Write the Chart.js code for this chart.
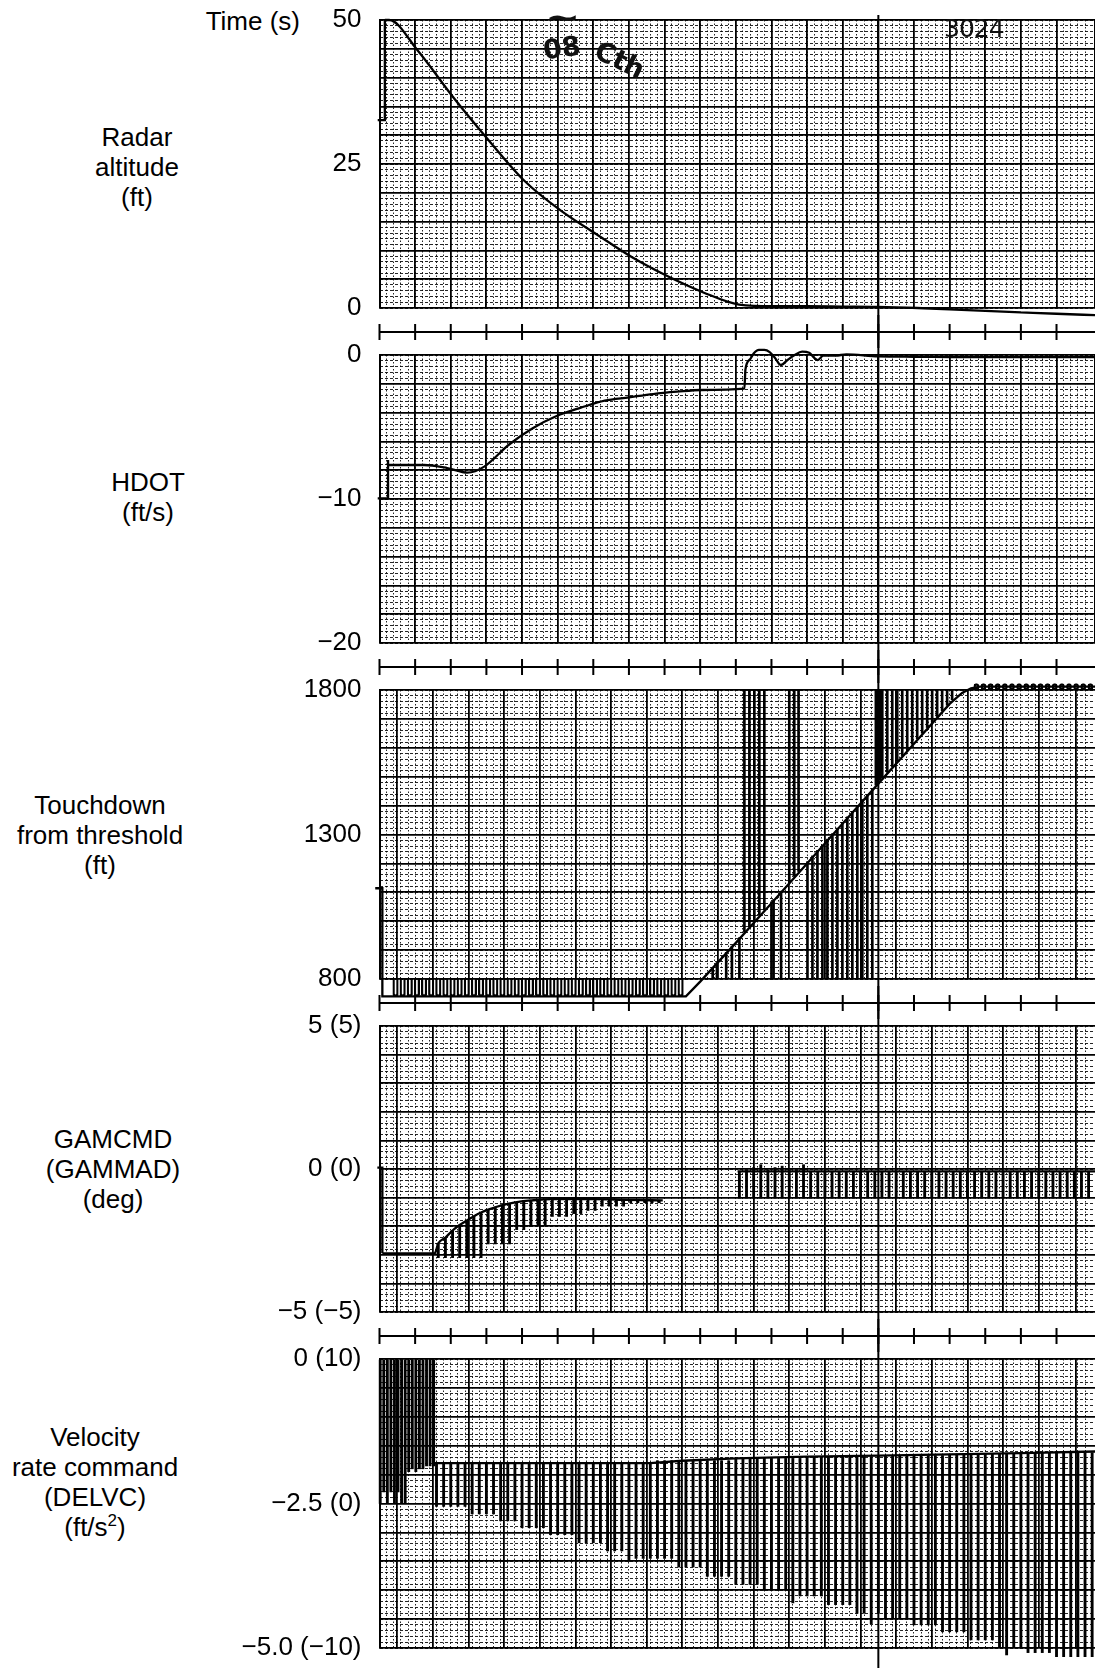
<!DOCTYPE html>
<html>
<head>
<meta charset="utf-8">
<title>Autoland strip chart</title>
<script src="https://cdn.jsdelivr.net/npm/chart.js@4.4.1/dist/chart.umd.min.js"></script>
<style>
  html, body { margin: 0; padding: 0; background: #fff; }
  #page { position: relative; width: 1095px; height: 1668px; overflow: hidden;
          font-family: 'Liberation Sans', Arial, Helvetica, sans-serif; color: #000; }
  #page canvas { position: absolute; left: 0; }
  .lbl { position: absolute; width: 300px; text-align: center; font-size: 26px; line-height: 30px; }
  .hand { position: absolute; font-family: 'DejaVu Sans', sans-serif; color: #111; }
</style>
</head>
<body>
<div id="page">
  <div class="lbl" style="left:0;top:6px;text-align:right;">Time (s)</div>
  <div class="lbl" style="left:-13px;top:122px;">Radar<br>altitude<br>(ft)</div>
  <div class="lbl" style="left:-2px;top:467px;">HDOT<br>(ft/s)</div>
  <div class="lbl" style="left:-50px;top:790px;">Touchdown<br>from threshold<br>(ft)</div>
  <div class="lbl" style="left:-37px;top:1124px;">GAMCMD<br>(GAMMAD)<br>(deg)</div>
  <div class="lbl" style="left:-55px;top:1422px;">Velocity<br>rate command<br>(DELVC)<br>(ft/s<sup style="font-size:17px;line-height:0;vertical-align:10px;">2</sup>)</div>

  <canvas id="c1" width="1095" height="348" style="top:0px"></canvas>
  <canvas id="c2" width="1095" height="368" style="top:315px"></canvas>
  <canvas id="c3" width="1095" height="369" style="top:650px"></canvas>
  <canvas id="c4" width="1095" height="366" style="top:986px"></canvas>
  <canvas id="c5" width="1095" height="349" style="top:1319px"></canvas>

  <div class="hand" style="left:944px;top:14px;font-size:25px;letter-spacing:-1px;">3024</div>
  <div class="hand" style="left:550px;top:0px;font-size:30px;font-weight:bold;transform:scaleX(1.4);">~</div>
  <div class="hand" style="left:543px;top:32px;font-size:27px;font-weight:bold;transform:rotate(-8deg);">08</div>
  <div class="hand" style="left:594px;top:44px;font-size:27px;font-weight:bold;transform:rotate(26deg);">Cth</div>
</div>

<script>
// ---- data (time in seconds) ----
const cursorTime = 14;
const timeMax = 20.08;

// radar altitude (ft)
const altMarkT = [-0.05, 0.15, 0.15];
const altMarkVal = [32.6, 32.6, 50];
const altT = [0.15, 0.27, 1.06, 2.08, 3.08, 4.08, 5.09, 6.09, 7.09, 8.09, 9.09, 10.09, 11.1, 12.0, 13.0, 14.0, 15.1, 16.0, 17.0, 18.0, 19.0, 20.1];
const altVal = [50, 50, 44.8, 36.5, 29.0, 22.0, 16.9, 12.8, 8.8, 5.5, 2.7, 0.6, 0.3, 0.3, 0.25, 0.2, 0.0, -0.25, -0.5, -0.75, -1.0, -1.25];
const altTickVals = [50, 25, 0];
const altTickText = ['50', '25', '0'];

// HDOT (ft/s)
const hdotMarkT = [-0.05, 0.24, 0.24];
const hdotMarkVal = [-9.95, -9.95, -7.3];
const hdotT = [0.24, 1.25, 1.9, 2.47, 2.94, 3.62, 4.3, 4.97, 5.65, 6.32, 7.0, 7.68, 8.35, 9.02, 10.24, 10.27, 10.4, 10.5, 10.65, 10.8, 10.95, 11.1, 11.26, 11.45, 11.65, 11.86, 12.06, 12.2, 12.3, 12.45, 12.8, 13.1, 14.0, 15.0, 16.0, 17.0, 18.0, 19.0, 20.1];
const hdotVal = [-7.64, -7.64, -7.85, -8.17, -7.75, -6.25, -5.09, -4.24, -3.66, -3.17, -2.94, -2.71, -2.55, -2.43, -2.34, -1.0, -0.3, 0.1, 0.35, 0.35, 0.2, -0.2, -0.69, -0.35, 0.0, 0.23, 0.15, -0.2, -0.35, -0.05, -0.05, 0.05, -0.1, -0.12, -0.14, -0.15, -0.15, -0.15, -0.15];
const hdotTickVals = [0, -10, -20];
const hdotTickText = ['0', '\u221210', '\u221220'];

// touchdown from threshold (ft)
const tdT = [-0.12, 0.08, 0.08, 8.6, 9.0, 10.0, 11.0, 12.0, 13.0, 14.0, 15.0, 16.0, 16.35, 16.6, 16.85, 20.1];
const tdVal = [1114, 1114, 740, 740, 791, 925, 1062, 1200, 1338, 1476, 1614, 1752, 1790, 1806, 1812, 1812];
const tdFloorLoopT = [0.45, 0.65, 0.85, 1.05, 1.25, 1.45, 1.65, 1.85, 2.05, 2.25, 2.45, 2.65, 2.85, 3.05, 3.25, 3.45, 3.65, 3.85, 4.05, 4.25, 4.45, 4.65, 4.85, 5.05, 5.25, 5.45, 5.65, 5.85, 6.05, 6.25, 6.45, 6.65, 6.85, 7.05, 7.25, 7.45, 7.65, 7.85, 8.05, 8.25, 8.45];
const tdFloorLo = 740, tdFloorHi = 800;
const tdCeilLoopT = [16.75, 16.95, 17.15, 17.35, 17.55, 17.75, 17.95, 18.15, 18.35, 18.55, 18.75, 18.95, 19.15, 19.35, 19.55, 19.75, 19.95];
const tdCeilLo = 1800, tdCeilHi = 1822;
const tdHatchT = [9.35, 9.47, 9.73, 9.89, 10.1, 10.24, 10.38, 10.52, 10.66, 10.8, 11.0, 11.06, 11.27, 11.5, 11.64, 11.76,
  12.01, 12.15, 12.29, 12.43, 12.57, 12.71, 12.85, 12.99, 13.13, 13.27, 13.41, 13.55, 13.69, 13.83,
  13.93, 13.99, 14.05, 14.11, 14.25, 14.39, 14.53, 14.67, 14.81, 14.95, 15.09, 15.23, 15.37, 15.51, 15.65, 15.79, 15.93, 16.07];
const tdHatchLo = [800, 800, 800, 800, 800, 962, 981, 1001, 1020, 1039, 800, 800, 800, 1136, 1155, 1172,
  800, 800, 800, 800, 800, 800, 800, 800, 800, 800, 800, 800, 800, 800,
  1471, 1480, 1488, 1496, 1515, 1535, 1554, 1573, 1593, 1612, 1631, 1651, 1670, 1689, 1708, 1728, 1747, 1766];
const tdHatchHi = [839, 856, 892, 914, 943, 1800, 1800, 1800, 1800, 1800, 1067, 1075, 1104, 1800, 1800, 1800,
  1206, 1226, 1245, 1264, 1284, 1303, 1322, 1342, 1361, 1380, 1400, 1419, 1438, 1458,
  1800, 1800, 1800, 1800, 1800, 1800, 1800, 1800, 1800, 1800, 1800, 1800, 1800, 1800, 1800, 1800, 1800, 1800];
const tdTickVals = [1800, 1300, 800];
const tdTickText = ['1800', '1300', '800'];

// GAMCMD (GAMMAD) (deg)
const gamMarkT = [-0.06, 0.08, 0.08];
const gamMarkVal = [0.05, 0.05, -2.95];
const gamT = [0.08, 1.55, 1.65, 1.85, 2.05, 2.25, 2.45, 2.65, 2.85, 3.05, 3.45, 3.85, 4.25, 4.85, 6.0, 7.0, 7.95];
const gamVal = [-2.95, -2.95, -2.6, -2.4, -2.15, -1.96, -1.8, -1.65, -1.52, -1.42, -1.26, -1.16, -1.1, -1.05, -1.05, -1.08, -1.1];
const gamBandLineT = [10.05, 20.1];
const gamBandLineVal = [-0.08, -0.08];
const gamHatchT = [1.65, 1.85, 2.05, 2.25, 2.45, 2.65, 2.85, 3.05, 3.25, 3.45, 3.65, 3.85, 4.05, 4.25, 4.45, 4.65,
  4.85, 5.05, 5.25, 5.45, 5.65, 5.85, 6.05, 6.25, 6.45, 6.65, 6.85, 7.05, 7.25, 7.45, 7.65, 7.85];
const gamHatchHi = [-2.6, -2.4, -2.15, -1.96, -1.8, -1.65, -1.52, -1.42, -1.33, -1.26, -1.2, -1.16, -1.12, -1.1, -1.08, -1.06,
  -1.05, -1.05, -1.05, -1.05, -1.05, -1.05, -1.05, -1.06, -1.06, -1.07, -1.07, -1.08, -1.08, -1.09, -1.09, -1.1];
const gamHatchLo = [-3.1, -3.1, -3.1, -3.1, -3.1, -3.1, -3.1, -2.62, -2.62, -2.62, -2.62, -2.12, -2.12, -1.95, -1.95, -1.95,
  -1.66, -1.66, -1.66, -1.56, -1.56, -1.45, -1.45, -1.3, -1.3, -1.3, -1.3, -1.18, -1.18, -1.18, -1.18, -1.18];
const gamBandT = [10.1, 10.3, 10.5, 10.7, 10.9, 11.1, 11.3, 11.5, 11.7, 11.9, 12.1, 12.3, 12.5, 12.7, 12.9, 13.1, 13.3, 13.5, 13.7, 13.9,
  14.1, 14.3, 14.5, 14.7, 14.9, 15.1, 15.3, 15.5, 15.7, 15.9, 16.1, 16.3, 16.5, 16.7, 16.9, 17.1, 17.3, 17.5, 17.7, 17.9,
  18.1, 18.3, 18.5, 18.7, 18.9, 19.1, 19.3, 19.5, 19.7, 19.9];
const gamBandHi = [-0.08, 0.0, 0.05, 0.15, 0.0, 0.05, 0.1, -0.05, 0.0, 0.15, -0.08, -0.08, -0.08, -0.08, -0.08, -0.08, -0.08, -0.08, -0.08, -0.08,
  -0.08, -0.08, -0.08, -0.08, -0.08, -0.08, -0.08, -0.08, -0.08, -0.08, -0.08, -0.08, -0.08, -0.08, -0.08, -0.08, -0.08, -0.08, -0.08, -0.08,
  -0.08, -0.08, -0.08, -0.08, -0.08, -0.08, -0.08, -0.08, -0.08, -0.08];
const gamBandLo = -1.02;
const gamTickVals = [5, 0, -5];
const gamTickText = ['5 (5)', '0 (0)', '\u22125 (\u22125)'];

// velocity rate command DELVC (ft/s^2)
const velT = [1.5, 4.0, 7.6, 8.5, 10.0, 12.0, 14.0, 16.0, 18.0, 20.1];
const velVal = [-1.8, -1.8, -1.8, -1.76, -1.72, -1.69, -1.67, -1.65, -1.63, -1.6];
const velLeftT = [0.02, 0.12, 0.22, 0.32, 0.42, 0.52, 0.62, 0.72, 0.82, 0.92, 1.02, 1.12, 1.22, 1.32, 1.42, 1.52];
const velLeftLo = [-2.5, -2.3, -2.5, -2.3, -2.5, -2.3, -2.5, -2.5, -1.95, -1.9, -1.95, -1.9, -1.9, -1.85, -1.85, -1.85];
const velLeftHi = 0;
const velHatchT = [1.6, 1.8, 2.0, 2.2, 2.4, 2.6, 2.8, 3.0, 3.2, 3.4,
  3.6, 3.8, 4.0, 4.2, 4.4, 4.6, 4.8, 5.0, 5.2, 5.4,
  5.6, 5.8, 6.0, 6.2, 6.4, 6.6, 6.8, 7.0, 7.2, 7.4,
  7.6, 7.8, 8.0, 8.2, 8.4, 8.6, 8.8, 9.0, 9.2, 9.4,
  9.6, 9.8, 10.0, 10.2, 10.4, 10.6, 10.8, 11.0, 11.2, 11.4,
  11.6, 11.8, 12.0, 12.2, 12.4, 12.6, 12.8, 13.0, 13.2, 13.4,
  13.6, 13.8, 14.0, 14.2, 14.4, 14.6, 14.8, 15.0, 15.2, 15.4,
  15.6, 15.8, 16.0, 16.2, 16.4, 16.6, 16.8, 17.0, 17.2, 17.4,
  17.6, 17.8, 18.0, 18.2, 18.4, 18.6, 18.8, 19.0, 19.2, 19.4,
  19.6, 19.8, 20.0];
const velHatchLo = [-2.55, -2.55, -2.55, -2.55, -2.55, -2.68, -2.68, -2.68, -2.68, -2.8,
  -2.8, -2.8, -2.92, -2.92, -2.92, -2.92, -3.04, -3.04, -3.04, -3.04,
  -3.18, -3.18, -3.18, -3.18, -3.32, -3.32, -3.32, -3.5, -3.45, -3.45,
  -3.45, -3.45, -3.45, -3.45, -3.6, -3.6, -3.6, -3.6, -3.76, -3.76,
  -3.76, -3.76, -3.9, -3.9, -3.9, -3.9, -4.0, -4.0, -4.0, -4.0,
  -4.22, -4.1, -4.1, -4.1, -4.1, -4.25, -4.25, -4.25, -4.25, -4.4,
  -4.4, -4.58, -4.4, -4.48, -4.48, -4.48, -4.48, -4.6, -4.6, -4.6,
  -4.6, -4.72, -4.72, -4.72, -4.72, -4.86, -4.86, -4.86, -4.86, -4.98,
  -5.12, -4.98, -4.98, -5.08, -5.08, -5.08, -5.08, -5.15, -5.15, -5.15,
  -5.15, -5.15, -5.15];
const velHatchHi = [-1.8, -1.8, -1.8, -1.8, -1.8, -1.8, -1.8, -1.8, -1.8, -1.8,
  -1.8, -1.8, -1.8, -1.8, -1.8, -1.8, -1.8, -1.8, -1.8, -1.8,
  -1.8, -1.8, -1.8, -1.8, -1.8, -1.8, -1.8, -1.8, -1.8, -1.8,
  -1.8, -1.76, -1.76, -1.76, -1.76, -1.76, -1.76, -1.76, -1.76, -1.76,
  -1.76, -1.76, -1.72, -1.72, -1.72, -1.72, -1.72, -1.72, -1.72, -1.72,
  -1.72, -1.72, -1.69, -1.69, -1.69, -1.69, -1.69, -1.69, -1.69, -1.69,
  -1.69, -1.69, -1.67, -1.67, -1.67, -1.67, -1.67, -1.67, -1.67, -1.67,
  -1.67, -1.67, -1.65, -1.65, -1.65, -1.65, -1.65, -1.65, -1.65, -1.65,
  -1.65, -1.65, -1.62, -1.62, -1.62, -1.62, -1.62, -1.62, -1.62, -1.62,
  -1.62, -1.62, -1.62];
const velTickVals = [0, -2.5, -5];
const velTickText = ['0 (10)', '\u22122.5 (0)', '\u22125.0 (\u221210)'];

// ---- helpers ----
Chart.defaults.font.family = "'Liberation Sans', Arial, Helvetica, sans-serif";
Chart.defaults.font.size = 26;
Chart.defaults.color = '#000';

function pts(ts, vs) {
  return ts.map((t, i) => ({ x: t, y: vs[i] }));
}
function ranges(ts, lo, hi) {
  return ts.map((t, i) => ({
    x: t,
    y: [Array.isArray(lo) ? lo[i] : lo, Array.isArray(hi) ? hi[i] : hi]
  }));
}

function trace(data, smooth) {
  return {
    type: 'line', data: data, borderColor: '#000', borderWidth: 2.3,
    pointRadius: 0, tension: 0, cubicInterpolationMode: smooth ? 'monotone' : 'default',
    clip: false, spanGaps: false, order: 0
  };
}
function hatch(data, width) {
  return {
    type: 'bar', data: data, backgroundColor: '#000', borderWidth: 0,
    barThickness: width || 2, grouped: false, clip: false, order: 1
  };
}
function loops(data, skip, width) {
  return {
    type: 'bar', data: data, backgroundColor: 'rgba(0,0,0,0)', borderColor: '#000',
    borderWidth: 1.6, borderSkipped: skip, borderRadius: 2.5, barThickness: width || 5,
    grouped: false, clip: false, order: 1
  };
}

// cursor line through every panel and the time-tick strip under a panel
const recorderMarks = {
  id: 'recorderMarks',
  afterDatasetsDraw(chart, args, opts) {
    const ctx = chart.ctx;
    const area = chart.chartArea;
    const xs = chart.scales.x;
    ctx.save();
    ctx.strokeStyle = '#000';
    ctx.lineWidth = 2;
    if (opts.strip) {
      const y = Math.round(area.bottom + 23.5);
      ctx.beginPath();
      ctx.moveTo(area.left, y);
      ctx.lineTo(area.right, y);
      xs.ticks.forEach(tk => {
        if (Math.abs(tk.value - Math.round(tk.value)) > 1e-6) return;
        const px = xs.getPixelForValue(tk.value);
        ctx.moveTo(px, y - 8);
        ctx.lineTo(px, y + 8);
      });
      ctx.stroke();
    }
    const cx = xs.getPixelForValue(cursorTime);
    ctx.beginPath();
    ctx.moveTo(cx, opts.cursorTop || 0);
    ctx.lineTo(cx, chart.height);
    ctx.stroke();
    ctx.restore();
  }
};

function scalesFor(p) {
  return {
    x: {
      type: 'linear', min: 0, max: timeMax, offset: false,
      afterFit: s => { s.height = 0; },
      ticks: { display: false, stepSize: 1 },
      grid: { color: '#000', lineWidth: 1.8, drawTicks: false, z: -1 },
      border: { display: false }
    },
    xm: {
      type: 'linear', axis: 'x', position: 'bottom', min: 0, max: timeMax, offset: false,
      afterFit: s => { s.height = 0; },
      ticks: { display: false, stepSize: 0.2 },
      grid: { color: 'rgba(0,0,0,0.85)', lineWidth: 1, drawTicks: false, z: -2 },
      border: { display: false, dash: [1.5, 2] }
    },
    y: {
      type: 'linear', min: p.min, max: p.max,
      afterFit: s => { s.width = 379.5; s.paddingTop = 0; s.paddingBottom = 0; },
      ticks: {
        stepSize: p.step, autoSkip: false, padding: 18,
        callback: v => {
          const i = p.tickVals.findIndex(t => Math.abs(t - v) < 1e-6);
          return i < 0 ? '' : p.tickText[i];
        }
      },
      grid: { color: '#000', lineWidth: 1.8, drawTicks: false, z: -1 },
      border: { display: true, color: '#000', width: 2 }
    },
    ym: {
      type: 'linear', axis: 'y', position: 'left', min: p.min, max: p.max,
      afterFit: s => { s.width = 0; s.paddingTop = 0; s.paddingBottom = 0; },
      ticks: { display: false, stepSize: p.minor },
      grid: { color: 'rgba(0,0,0,0.85)', lineWidth: 1, drawTicks: false, z: -2 },
      border: { display: false, dash: [3, 2] }
    }
  };
}

function buildChart(p) {
  return new Chart(document.getElementById(p.canvas), {
    type: 'line',
    data: { datasets: p.datasets },
    options: {
      responsive: false, animation: false, devicePixelRatio: 1, events: [],
      layout: { padding: { top: p.padTop, bottom: p.padBottom, left: 0, right: 0 } },
      plugins: {
        legend: { display: false },
        tooltip: { enabled: false },
        recorderMarks: { strip: p.strip, cursorTop: p.cursorTop }
      },
      scales: scalesFor(p)
    },
    plugins: [recorderMarks]
  });
}

const panels = [
  {
    canvas: 'c1', min: 0, max: 50, step: 5, minor: 1, padTop: 20, padBottom: 40, strip: true, cursorTop: 15,
    tickVals: altTickVals, tickText: altTickText,
    datasets: [trace(pts(altMarkT, altMarkVal)), trace(pts(altT, altVal), true)]
  },
  {
    canvas: 'c2', min: -20, max: 0, step: 2, minor: 0.4, padTop: 40, padBottom: 40, strip: true, cursorTop: 0,
    tickVals: hdotTickVals, tickText: hdotTickText,
    datasets: [trace(pts(hdotMarkT, hdotMarkVal)), trace(pts(hdotT, hdotVal), true)]
  },
  {
    canvas: 'c3', min: 800, max: 1800, step: 100, minor: 20, padTop: 40, padBottom: 40, strip: true, cursorTop: 0,
    tickVals: tdTickVals, tickText: tdTickText,
    datasets: [
      trace(pts(tdT, tdVal)),
      hatch(ranges(tdHatchT, tdHatchLo, tdHatchHi), 2),
      loops(ranges(tdFloorLoopT, tdFloorLo, tdFloorHi), 'top', 5.5),
      loops(ranges(tdCeilLoopT, tdCeilLo, tdCeilHi), false, 5)
    ]
  },
  {
    canvas: 'c4', min: -5, max: 5, step: 1, minor: 0.2, padTop: 40, padBottom: 40, strip: true, cursorTop: 0,
    tickVals: gamTickVals, tickText: gamTickText,
    datasets: [
      trace(pts(gamMarkT, gamMarkVal)),
      trace(pts(gamT, gamVal), true),
      trace(pts(gamBandLineT, gamBandLineVal)),
      hatch(ranges(gamHatchT, gamHatchLo, gamHatchHi), 2.2),
      hatch(ranges(gamBandT, gamBandLo, gamBandHi), 2.2)
    ]
  },
  {
    canvas: 'c5', min: -5, max: 0, step: 0.5, minor: 0.1, padTop: 40, padBottom: 20, strip: false, cursorTop: 0,
    tickVals: velTickVals, tickText: velTickText,
    datasets: [
      trace(pts(velT, velVal)),
      hatch(ranges(velLeftT, velLeftLo, velLeftHi), 2.2),
      hatch(ranges(velHatchT, velHatchLo, velHatchHi), 2.2)
    ]
  }
];

panels.forEach(buildChart);
</script>
</body>
</html>
